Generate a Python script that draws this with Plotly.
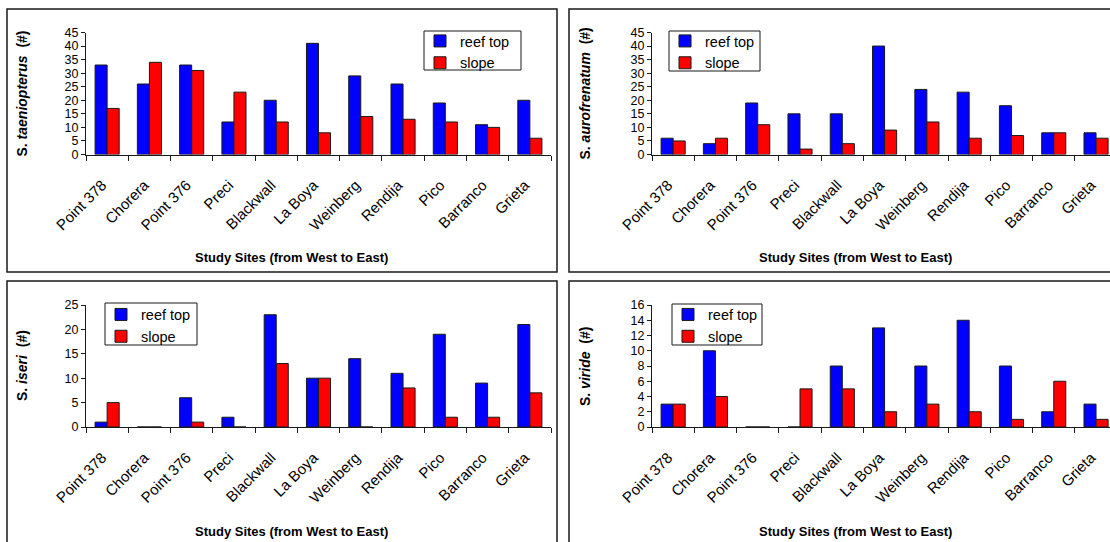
import plotly.graph_objects as go

sites = ["Point 378", "Chorera", "Point 376", "Preci", "Blackwall", "La Boya",
         "Weinberg", "Rendija", "Pico", "Barranco", "Grieta"]

taeniopterus_reef = [33, 26, 33, 12, 20, 41, 29, 26, 19, 11, 20]
taeniopterus_slope = [17, 34, 31, 23, 12, 8, 14, 13, 12, 10, 6]

aurofrenatum_reef = [6, 4, 19, 15, 15, 40, 24, 23, 18, 8, 8]
aurofrenatum_slope = [5, 6, 11, 2, 4, 9, 12, 6, 7, 8, 6]

iseri_reef = [1, 0, 6, 2, 23, 10, 14, 11, 19, 9, 21]
iseri_slope = [5, 0, 1, 0, 13, 10, 0, 8, 2, 2, 7]

viride_reef = [3, 10, 0, 0, 8, 13, 8, 14, 8, 2, 3]
viride_slope = [3, 4, 0, 5, 5, 2, 3, 2, 1, 6, 1]

series_names = ["reef top", "slope"]
x_title = "<b>Study Sites (from West to East)</b>"

W, H = 1110, 542
FONT = "Liberation Sans, Arial, sans-serif"
INK = "#1a1a1a"


def px_x(v):
    return v / W


def px_y(v):
    return 1 - v / H


panels = [
    dict(reef=taeniopterus_reef, slope=taeniopterus_slope,
         ytitle="<b>S. <i>taeniopterus</i>&nbsp; (#)</b>", ymax=45, dtick=5,
         left=86, right=551, top=32.5, bottom=154.5, xr=10.5,
         box=(424, 31, 521, 70), row1=40.5, ytx=22, xtx=291, xty=257),
    dict(reef=aurofrenatum_reef, slope=aurofrenatum_slope,
         ytitle="<b>S. <i>aurofrenatum</i>&nbsp; (#)</b>", ymax=45, dtick=5,
         left=652, right=1110, top=32.5, bottom=154.5, xr=10.33,
         box=(669, 31, 760, 71), row1=40.5, ytx=585, xtx=855, xty=257),
    dict(reef=iseri_reef, slope=iseri_slope,
         ytitle="<b>S. <i>iseri</i>&nbsp; (#)</b>", ymax=25, dtick=5,
         left=86, right=551, top=305, bottom=427, xr=10.5,
         box=(105, 303, 197, 345), row1=314, ytx=22, xtx=291, xty=531),
    dict(reef=viride_reef, slope=viride_slope,
         ytitle="<b>S. <i>viride</i>&nbsp; (#)</b>", ymax=16, dtick=2,
         left=652, right=1110, top=305, bottom=427, xr=10.33,
         box=(672, 304, 762, 345), row1=314, ytx=585, xtx=855, xty=531),
]

fig = go.Figure()
layout = dict(
    width=W, height=H, autosize=False,
    margin=dict(l=0, r=0, t=0, b=0, pad=0),
    paper_bgcolor="white", plot_bgcolor="white",
    barmode="group", bargap=0.43, bargroupgap=0,
    font=dict(family=FONT, size=13, color="black"),
    annotations=[], shapes=[],
)

for i, p in enumerate(panels):
    n = i + 1
    sx = "" if n == 1 else str(n)
    xa, ya = "x" + sx, "y" + sx
    leg = "legend" + sx
    for name, vals, col in ((series_names[0], p["reef"], "#0000FF"),
                            (series_names[1], p["slope"], "#FF0000")):
        fig.add_trace(go.Bar(
            x=sites, y=vals, name=name, xaxis=xa, yaxis=ya, legend=leg,
            marker=dict(color=col, line=dict(color=INK, width=1)),
        ))
    layout["xaxis" + sx] = dict(
        domain=[px_x(p["left"]), min(1.0, px_x(p["right"]))],
        anchor=ya, type="category", range=[-0.5, p["xr"]],
        showline=True, linecolor=INK, linewidth=1,
        ticks="outside", tickson="boundaries", ticklen=5, tickcolor=INK,
        tickangle=-45, showgrid=False, zeroline=False, automargin=False,
        ticklabelstandoff=15, ticklabelshift=-5,
        tickfont=dict(family=FONT, size=15, color="black"),
    )
    layout["yaxis" + sx] = dict(
        domain=[px_y(p["bottom"]), px_y(p["top"])],
        anchor=xa, range=[0, p["ymax"]], dtick=p["dtick"], tick0=0,
        showline=True, linecolor=INK, linewidth=1,
        ticks="outside", ticklen=4, tickcolor=INK,
        showgrid=False, zeroline=False, automargin=False,
        tickfont=dict(family=FONT, size=12.5, color="black"),
    )
    bx0, by0, bx1, by1 = p["box"]
    layout[leg] = dict(
        x=px_x(bx0 - 4), y=px_y(p["row1"] - 15.5),
        xanchor="left", yanchor="top",
        bgcolor="rgba(0,0,0,0)", borderwidth=0,
        font=dict(family=FONT, size=14.5, color="black"),
        tracegroupgap=0,
    )
    # legend frame
    layout["shapes"].append(dict(
        type="rect", xref="paper", yref="paper",
        x0=px_x(bx0), x1=px_x(bx1), y0=px_y(by1), y1=px_y(by0),
        line=dict(color=INK, width=1), fillcolor="white", layer="above",
    ))
    layout["annotations"].append(dict(
        text=p["ytitle"], xref="paper", yref="paper",
        x=px_x(p["ytx"]), y=px_y((p["top"] + p["bottom"]) / 2),
        xanchor="center", yanchor="middle", textangle=-90, showarrow=False,
        font=dict(family=FONT, size=14, color="black"),
    ))
    layout["annotations"].append(dict(
        text=x_title, xref="paper", yref="paper",
        x=px_x(p["xtx"]), y=px_y(p["xty"]),
        xanchor="center", yanchor="middle", showarrow=False,
        font=dict(family=FONT, size=13, color="black"),
    ))

# panel frames
frames = [(7, 9, 557, 272), (569, 9, 1125, 272), (7, 281, 557, 560), (569, 281, 1125, 560)]
for (x0, y0, x1, y1) in frames:
    layout["shapes"].append(dict(
        type="rect", xref="paper", yref="paper",
        x0=px_x(x0), x1=px_x(x1), y0=px_y(y1), y1=px_y(y0),
        line=dict(color=INK, width=1.5), fillcolor="rgba(0,0,0,0)", layer="below",
    ))

fig.update_layout(**layout)
fig.write_html("out.html")
